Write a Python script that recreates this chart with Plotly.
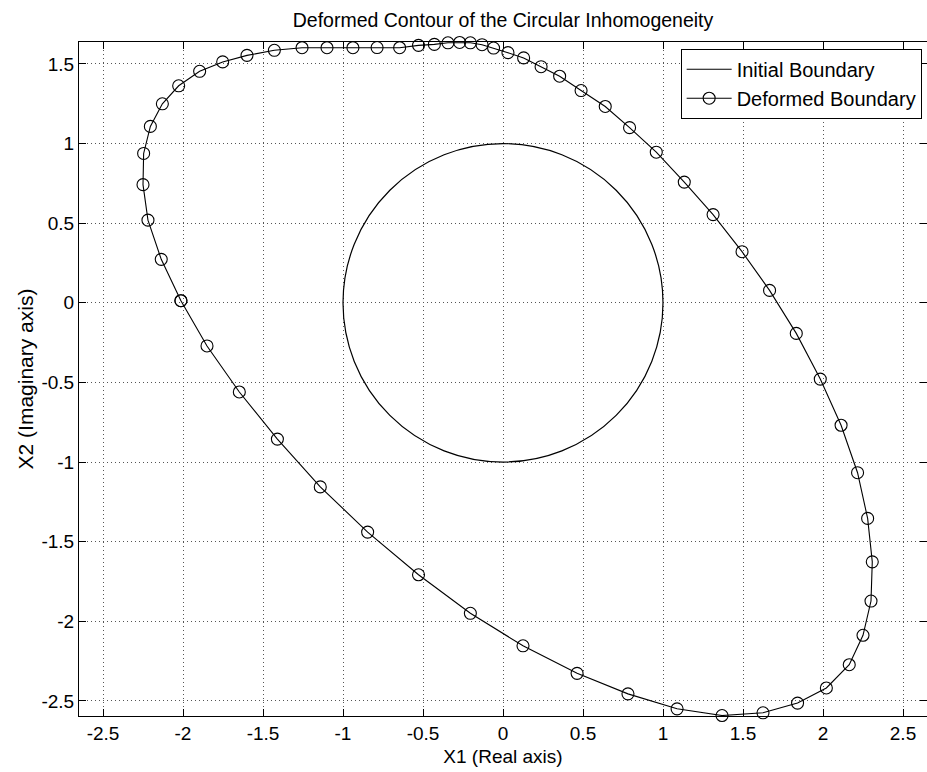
import plotly.graph_objects as go

# Axis tick positions and their printed labels
X_TICKS = [-2.5, -2.0, -1.5, -1.0, -0.5, 0.0, 0.5, 1.0, 1.5, 2.0, 2.5]
X_TICK_LABELS = ["-2.5", "-2", "-1.5", "-1", "-0.5", "0", "0.5", "1", "1.5", "2", "2.5"]
Y_TICKS = [-2.5, -2.0, -1.5, -1.0, -0.5, 0.0, 0.5, 1.0, 1.5]
Y_TICK_LABELS = ["-2.5", "-2", "-1.5", "-1", "-0.5", "0", "0.5", "1", "1.5"]

# Initial boundary: unit circle centred at the origin
INITIAL_CENTER_X = 0.0
INITIAL_CENTER_Y = 0.0
INITIAL_RADIUS = 1.0

# Deformed boundary nodes (X1 real part, X2 imaginary part), traversed clockwise
DEFORMED_X = [
    -2.013, -2.136, -2.219, -2.250, -2.246, -2.204, -2.129, -2.027, -1.896, -1.752,
    -1.600, -1.429, -1.256, -1.100, -0.938, -0.787, -0.646, -0.528, -0.429, -0.344,
    -0.271, -0.204, -0.131, -0.059, 0.031, 0.129, 0.238, 0.354, 0.488, 0.639,
    0.791, 0.958, 1.133, 1.313, 1.494, 1.666, 1.833, 1.983, 2.113, 2.216,
    2.279, 2.308, 2.300, 2.250, 2.164, 2.021, 1.841, 1.625, 1.369, 1.088,
    0.781, 0.463, 0.125, -0.204, -0.528, -0.846, -1.142, -1.410, -1.648, -1.850,
]
DEFORMED_Y = [
    0.013, 0.273, 0.519, 0.742, 0.938, 1.108, 1.250, 1.363, 1.454, 1.513,
    1.554, 1.586, 1.602, 1.602, 1.602, 1.603, 1.602, 1.617, 1.623, 1.633,
    1.635, 1.633, 1.621, 1.600, 1.571, 1.538, 1.483, 1.423, 1.333, 1.233,
    1.100, 0.946, 0.758, 0.554, 0.321, 0.078, -0.192, -0.479, -0.769, -1.067,
    -1.354, -1.627, -1.873, -2.088, -2.273, -2.419, -2.514, -2.575, -2.592, -2.550,
    -2.456, -2.327, -2.154, -1.950, -1.708, -1.440, -1.156, -0.856, -0.560, -0.271,
]

FONT = "Liberation Sans, Arial, Helvetica, sans-serif"

fig = go.Figure()

# Legend entry for the initial boundary (the circle itself is a layout shape)
fig.add_trace(go.Scatter(
    x=[None], y=[None],
    mode="lines",
    name="Initial Boundary",
    line=dict(color="black", width=1.2),
))

# Closed deformed contour with open circle markers
fig.add_trace(go.Scatter(
    x=DEFORMED_X + DEFORMED_X[:1],
    y=DEFORMED_Y + DEFORMED_Y[:1],
    mode="lines+markers",
    name="Deformed Boundary",
    line=dict(color="black", width=1.1),
    marker=dict(symbol="circle-open", size=12, color="black", line=dict(width=1.1)),
    cliponaxis=False,
))

fig.add_shape(
    type="circle",
    xref="x", yref="y",
    x0=INITIAL_CENTER_X - INITIAL_RADIUS, x1=INITIAL_CENTER_X + INITIAL_RADIUS,
    y0=INITIAL_CENTER_Y - INITIAL_RADIUS, y1=INITIAL_CENTER_Y + INITIAL_RADIUS,
    line=dict(color="black", width=1.2),
    layer="above",
)

axis_common = dict(
    showline=True,
    linecolor="black",
    linewidth=1,
    mirror="allticks",
    ticks="inside",
    ticklen=7,
    tickcolor="black",
    tickwidth=1,
    showgrid=True,
    gridcolor="#555555",
    gridwidth=1,
    griddash="1px,3px",
    zeroline=False,
    tickfont=dict(family=FONT, size=19, color="black"),
)

fig.update_xaxes(
    range=[-2.65, 2.65],
    tickmode="array",
    tickvals=X_TICKS,
    ticktext=X_TICK_LABELS,
    title=dict(text="X1 (Real axis)", font=dict(family=FONT, size=19, color="black"), standoff=6),
    **axis_common,
)
fig.update_yaxes(
    range=[-2.595, 1.638],
    tickmode="array",
    tickvals=Y_TICKS,
    ticktext=Y_TICK_LABELS,
    title=dict(text="X2 (Imaginary axis)", font=dict(family=FONT, size=21, color="black"), standoff=2),
    **axis_common,
)

fig.update_layout(
    width=927,
    height=772,
    margin=dict(l=79, r=0, t=42, b=56),
    paper_bgcolor="white",
    plot_bgcolor="white",
    title=dict(
        text="Deformed Contour of the Circular Inhomogeneity",
        font=dict(family=FONT, size=19.5, color="black"),
        x=0.5, xref="paper", xanchor="center",
        y=1 - 20 / 772, yref="container", yanchor="middle",
    ),
    legend=dict(
        x=0.9937, xanchor="right",
        y=0.990, yanchor="top",
        bgcolor="white",
        bordercolor="black",
        borderwidth=1,
        font=dict(family=FONT, size=20, color="black"),
        itemwidth=45,
        tracegroupgap=0,
    ),
    showlegend=True,
)

fig.write_html("out.html")
